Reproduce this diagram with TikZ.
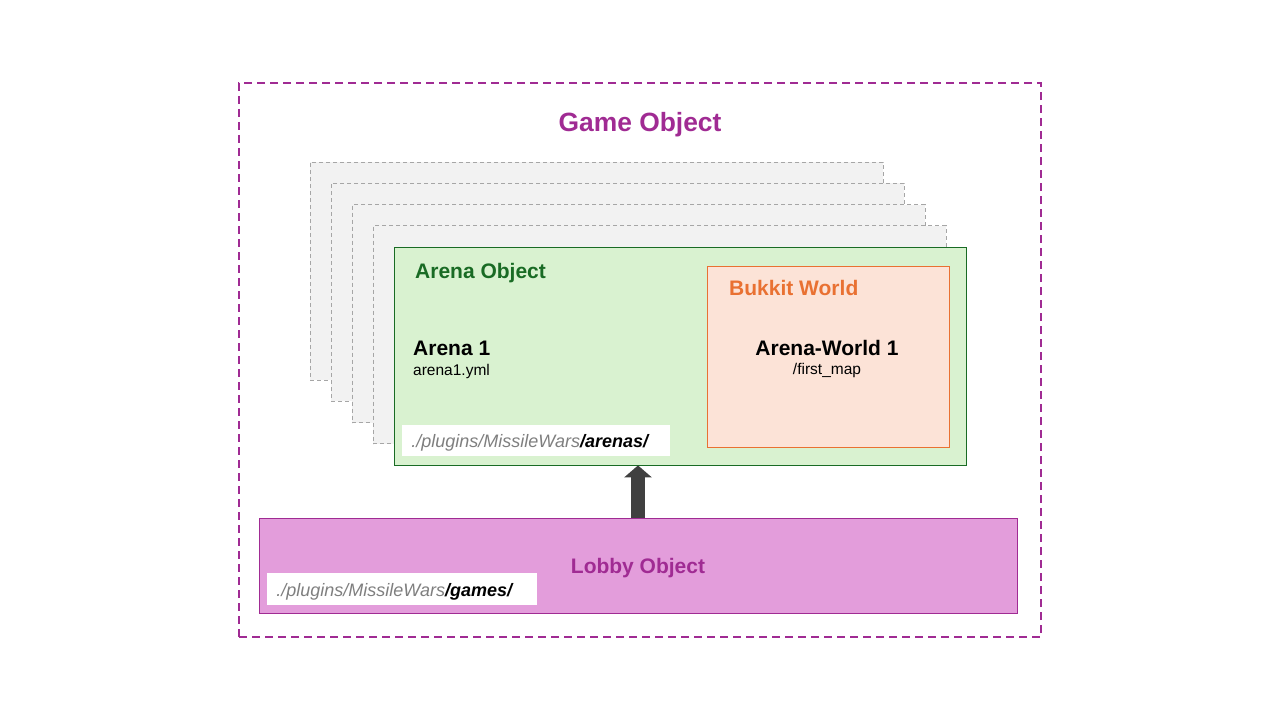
\documentclass[tikz,border=0pt]{standalone}
\usepackage{fontspec}
\setmainfont{Liberation Sans}
\usetikzlibrary{arrows.meta}

\definecolor{gamepurple}{HTML}{A02B93}
\definecolor{lobbyfill}{HTML}{E39DDB}
\definecolor{arenagreen}{HTML}{196B24}
\definecolor{arenafill}{HTML}{D9F2D0}
\definecolor{worldorange}{HTML}{E97132}
\definecolor{worldfill}{HTML}{FCE3D7}
\definecolor{sheetgray}{HTML}{A6A6A6}
\definecolor{pathgray}{HTML}{7F7F7F}

\tikzstyle{box}=[shape=rectangle,inner sep=0pt,line width=0.8pt]
\tikzstyle{sheet}=[box,draw=sheetgray,fill=black!5,dash pattern=on 4pt off 3pt,minimum width=573pt,minimum height=218pt]
\tikzstyle{pathbox}=[box,fill=white,anchor=west,inner xsep=9pt,text width=250pt,align=left,text height=14pt,text depth=1pt,minimum height=31pt]
\tikzstyle{plaintext}=[inner sep=0pt]
\tikzstyle{boxtitle}=[plaintext,anchor=base west,font=\fontsize{21}{25}\selectfont\bfseries]
\tikzstyle{itemname}=[plaintext,font=\fontsize{21}{25}\selectfont\bfseries]
\tikzstyle{itemfile}=[plaintext,font=\fontsize{15.5}{18}\selectfont]
\newcommand{\pathfont}{\fontsize{18}{22}\selectfont\itshape}

\begin{document}
\begin{tikzpicture}[x=1pt,y=-1pt]
        \useasboundingbox (0,0) rectangle (1280,720);
        % game frame
        \node[box,draw=gamepurple,line width=1.5pt,dash pattern=on 8pt off 5pt,minimum width=802pt,minimum height=554pt] (game) at (640,360) {};
        \node[boxtitle,anchor=base,text=gamepurple,font=\fontsize{26.4}{30}\selectfont\bfseries] (gametitle) at (640,131) {Game Object};
        % stacked arenas
        \node[sheet] (s1) at (596.5,271) {};
        \node[sheet] (s2) at (617.5,292) {};
        \node[sheet] (s3) at (638.5,313.5) {};
        \node[sheet] (s4) at (659.5,334.5) {};
        \node[box,draw=arenagreen,fill=arenafill,minimum width=572pt,minimum height=218pt] (arena) at (680,356) {};
        \node[boxtitle,text=arenagreen] (arenatitle) at (415,278) {Arena Object};
        \node[itemname,anchor=base west] (arena1) at (413,355) {Arena 1};
        \node[itemfile,anchor=base west] (arena1file) at (413,375) {arena1.yml};
        \node[pathbox,text width=250pt] (arenapath) at (402,440.5) {\pathfont\textcolor{pathgray}{./plugins/MissileWars}\textbf{/arenas/}};
        % bukkit world
        \node[box,draw=worldorange,fill=worldfill,minimum width=242pt,minimum height=181pt] (world) at (828,356.5) {};
        \node[boxtitle,text=worldorange] (worldtitle) at (729,295) {Bukkit World};
        \node[itemname,anchor=base] (world1) at (827,355) {Arena-World 1};
        \node[itemfile,anchor=base] (world1dir) at (827,374) {/first\_map};
        % lobby
        \node[box,draw=gamepurple,fill=lobbyfill,minimum width=758pt,minimum height=95pt] (lobby) at (638,565.5) {};
        \node[boxtitle,anchor=base,text=gamepurple] (lobbytitle) at (638,573) {Lobby Object};
        \node[pathbox,text width=252pt,text height=16pt,text depth=0pt,minimum height=32pt] (lobbypath) at (267,588.5) {\pathfont\textcolor{pathgray}{./plugins/MissileWars}\textbf{/games/}};
        \draw[draw=black!75,line width=14pt,-{Triangle[width=27pt,length=12pt]}] (lobby.north) -- (lobby.north |- arena.south);
    \end{tikzpicture}
\end{document}
